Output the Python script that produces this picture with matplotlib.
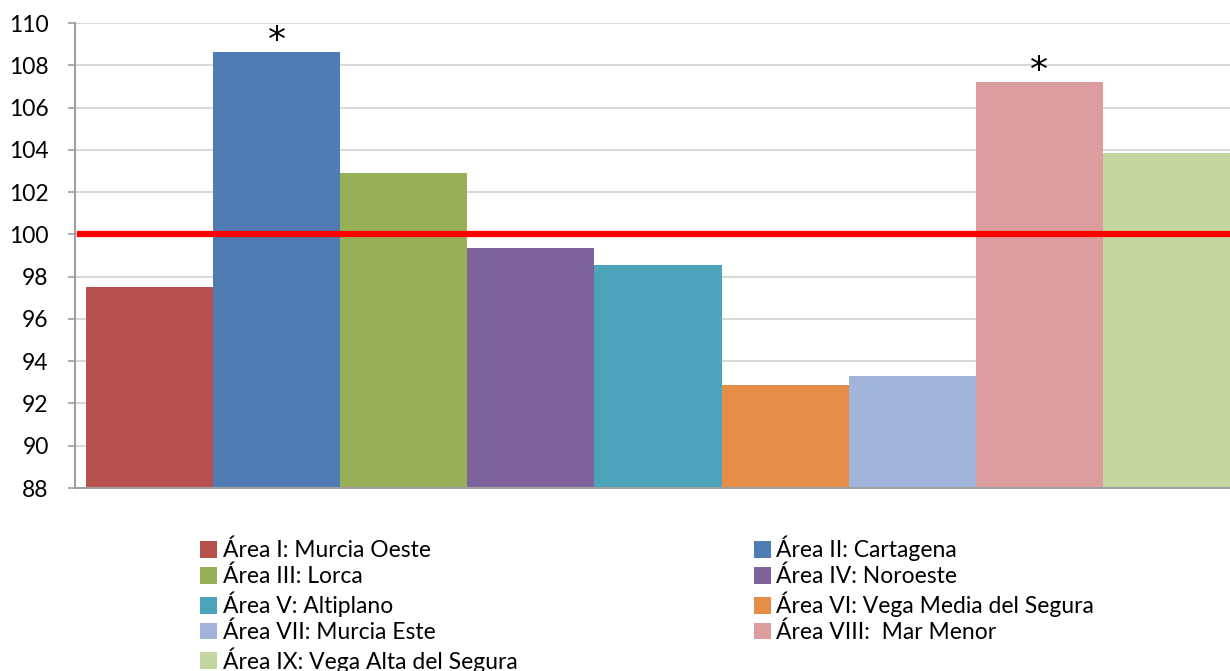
import matplotlib.pyplot as plt
from matplotlib.patches import Patch

areas = ['Área I: Murcia Oeste', 'Área II: Cartagena', 'Área III: Lorca',
         'Área IV: Noroeste', 'Área V: Altiplano', 'Área VI: Vega Media del Segura',
         'Área VII: Murcia Este', 'Área VIII:  Mar Menor', 'Área IX: Vega Alta del Segura']
valores = [97.5, 108.63, 102.9, 99.36, 98.55, 92.88, 93.3, 107.22, 103.83]
significativo = [False, True, False, False, False, False, False, True, False]
referencia = 100
colores = ['#B7514E', '#4F7DB3', '#97B058', '#7E629B', '#4BA4BA',
           '#E58C46', '#A1B4D9', '#DB9D9D', '#C4D7A0']

plt.rcParams['font.family'] = ['Lato', 'DejaVu Sans']

fig = plt.figure(figsize=(12.3, 6.71), dpi=100)
ax = fig.add_axes([0.061, 0.2727, 0.939, 0.693])

x = list(range(len(valores)))
ax.bar(x, [v - 88 for v in valores], bottom=88, width=1.0, color=colores, zorder=2)

# asteriscos de significacion
for xi, v, s in zip(x, valores, significativo):
    if s:
        ax.text(xi, v + 0.05, '*', ha='center', va='baseline', fontsize=26,
                family='DejaVu Sans', zorder=4)

ax.axhline(referencia, xmin=0.004, color='#FF0000', linewidth=4.5, zorder=3)

ax.set_ylim(88, 110)
ax.set_xlim(-0.587, 8.5)
ax.set_yticks(range(88, 111, 2))
ax.set_xticks([])
ax.tick_params(axis='y', labelsize=16.5, length=5, width=1.2, color='#A0A0A0', pad=14)
ax.yaxis.grid(True, color='#D9D9D9', linewidth=1.5, zorder=0)
ax.set_axisbelow(True)

# marcos
ax.spines['top'].set_visible(False)
ax.spines['right'].set_visible(False)
for lado in ['left', 'bottom']:
    ax.spines[lado].set_color('#A0A0A0')
    ax.spines[lado].set_linewidth(1.5)

# leyenda: filas alternas en dos columnas
orden = [0, 2, 4, 6, 8, 1, 3, 5, 7]
handles = [Patch(facecolor=colores[i], label=areas[i]) for i in orden]
fig.legend(handles=handles, loc='upper left', bbox_to_anchor=(0.155, 0.215), ncol=2,
           frameon=False, fontsize=16.5, handlelength=0.75, handleheight=0.75,
           handletextpad=0.25, labelspacing=0.19, columnspacing=10.3, borderaxespad=0)

plt.savefig('out.png', dpi=100)
